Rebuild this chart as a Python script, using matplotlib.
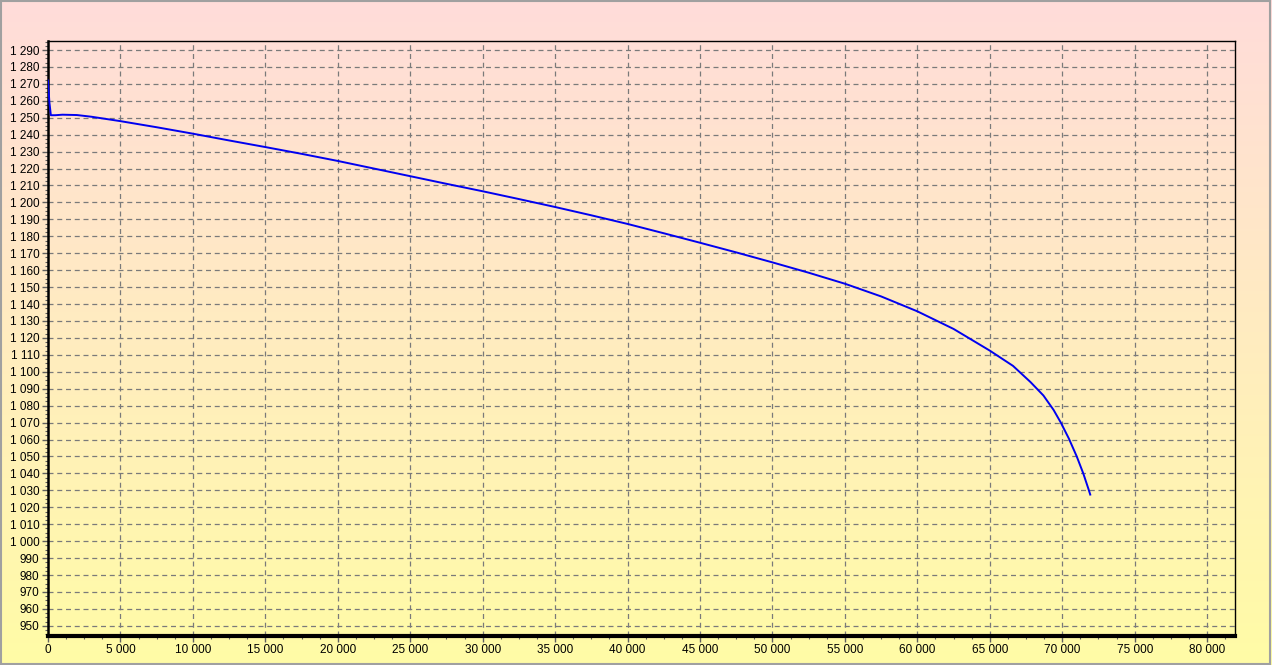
import numpy as np
import matplotlib.pyplot as plt
from matplotlib.ticker import MultipleLocator, FuncFormatter
from matplotlib.colors import LinearSegmentedColormap

# values
time_s = [0, 100, 200, 500, 1000, 2000, 3000, 4000, 5000, 7500, 10000, 12500, 15000,
          17500, 20000, 22500, 25000, 27500, 30000, 32500, 35000, 37500, 40000,
          42500, 45000, 47500, 50000, 52500, 55000, 57500, 60000, 62500, 65000,
          66600, 67800, 68700, 69400, 69900, 70460, 71000, 71450, 71800, 71930]
level = [1272, 1259, 1251.5, 1251.5, 1251.8, 1251.6, 1250.6, 1249.3, 1248, 1244.4, 1240.6,
         1236.6, 1232.7, 1228.7, 1224.5, 1220, 1215.5, 1211, 1206.6, 1202, 1197.3, 1192.4,
         1187.3, 1181.8, 1176.2, 1170.5, 1164.6, 1158.5, 1152, 1144.5, 1135.7, 1125.3,
         1112.5, 1103.5, 1094, 1086, 1077.5, 1070, 1060.5, 1050, 1040, 1031, 1027.5]


def space_thousands(v, pos):
    return "{:,.0f}".format(v).replace(",", " ")


plt.rcParams['font.family'] = ['Liberation Sans', 'DejaVu Sans']

fig = plt.figure(figsize=(12.72, 6.65), dpi=100)

# background gradient pink -> pale yellow
bg = fig.add_axes([0, 0, 1, 1], zorder=-10)
cmap = LinearSegmentedColormap.from_list("bg", ["#ffdcda", "#fffca6"])
bg.imshow(np.linspace(0, 1, 256).reshape(-1, 1), aspect='auto', cmap=cmap,
          extent=[0, 1, 0, 1])
bg.set_axis_off()
fig.patches.append(plt.Rectangle((0.0005, 0.001), 0.998, 0.997, transform=fig.transFigure,
                                 fill=False, edgecolor="#a0a0a0", linewidth=1.5))

ax = fig.add_axes([0.0377, 0.0436, 0.9332, 0.8947])
ax.set_facecolor('none')
ax.plot(time_s, level, color='#0000f0', linewidth=1.4, zorder=3)

ax.set_xlim(0, 81920)
ax.set_ylim(944, 1295.3)
ax.xaxis.set_major_locator(MultipleLocator(5000))
ax.xaxis.set_minor_locator(MultipleLocator(1250))
ax.yaxis.set_major_locator(MultipleLocator(10))
ax.yaxis.set_minor_locator(MultipleLocator(2.5))
ax.xaxis.set_major_formatter(FuncFormatter(space_thousands))
ax.yaxis.set_major_formatter(FuncFormatter(space_thousands))

ax.grid(True, which='major', linestyle=(0, (4, 3)), color='#7a7a7a', linewidth=0.9)
ax.tick_params(which='major', length=4, width=1, color='#606060', labelsize=8.5, pad=2)
ax.tick_params(which='minor', length=2, width=0.8, color='#606060')

for side in ['top', 'right']:
    ax.spines[side].set_linewidth(1)
ax.spines['left'].set_linewidth(1.8)
ax.spines['bottom'].set_linewidth(3)

fig.savefig('out.png', dpi=100)
